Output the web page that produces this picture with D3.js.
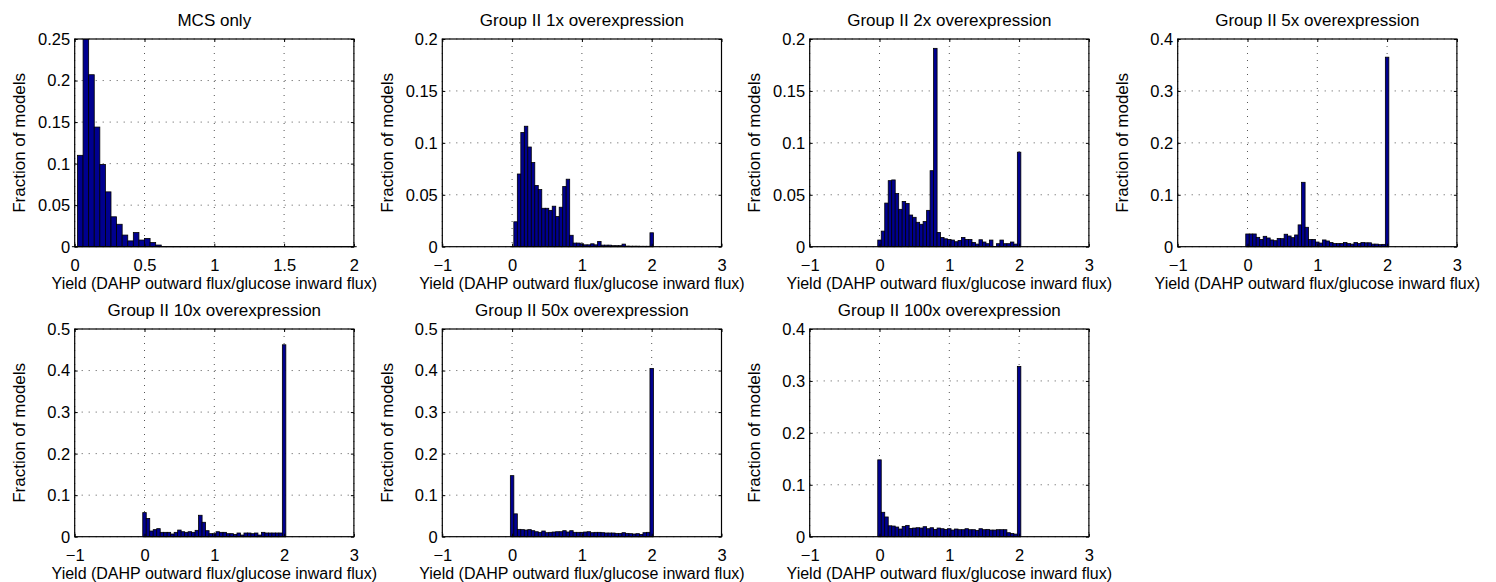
<!DOCTYPE html>
<html>
<head>
<meta charset="utf-8">
<script src="https://cdn.jsdelivr.net/npm/d3@7"></script>
<style>
  html, body { margin: 0; padding: 0; background: #fff; }
  svg { display: block; }
  text { font-family: "Liberation Sans", Arial, Helvetica, sans-serif; fill: #000; }
</style>
</head>
<body>
<svg id="chart" width="1496" height="582"></svg>
<script>
// ---------------- data ----------------
const titles = ["MCS only", "Group II 1x overexpression", "Group II 2x overexpression",
  "Group II 5x overexpression", "Group II 10x overexpression",
  "Group II 50x overexpression", "Group II 100x overexpression"];
const xLabel = "Yield (DAHP outward flux/glucose inward flux)";
const yLabel = "Fraction of models";

const binCentersMCS = [0, 0.04, 0.08, 0.12, 0.16, 0.2, 0.24, 0.28, 0.32, 0.36, 0.4, 0.44, 0.48, 0.52, 0.56, 0.6,
  0.64, 0.68, 0.72, 0.76, 0.8, 0.84, 0.88, 0.92, 0.96, 1, 1.04, 1.08, 1.12, 1.16, 1.2, 1.24, 1.28, 1.32, 1.36,
  1.4, 1.44, 1.48, 1.52, 1.56, 1.6, 1.64, 1.68, 1.72, 1.76, 1.8, 1.84, 1.88, 1.92, 1.96, 2];
const binCenters = [0, 0.05, 0.1, 0.15, 0.2, 0.25, 0.3, 0.35, 0.4, 0.45, 0.5, 0.55, 0.6, 0.65, 0.7, 0.75,
  0.8, 0.85, 0.9, 0.95, 1, 1.05, 1.1, 1.15, 1.2, 1.25, 1.3, 1.35, 1.4, 1.45, 1.5, 1.55, 1.6, 1.65, 1.7, 1.75,
  1.8, 1.85, 1.9, 1.95, 2];

const fracMCS = [0, 0.110, 0.250, 0.207, 0.144, 0.099, 0.066, 0.036, 0.027, 0.014, 0.007, 0.017, 0.008, 0.010, 0.005, 0.002,
  0, 0, 0, 0, 0, 0, 0, 0, 0, 0, 0, 0, 0, 0, 0, 0, 0, 0, 0, 0, 0, 0, 0, 0, 0, 0, 0, 0, 0, 0, 0, 0, 0, 0, 0];
const frac1x = [0, 0.024, 0.070, 0.110, 0.116, 0.096, 0.081, 0.059, 0.055, 0.037, 0.037, 0.035, 0.039, 0.029, 0.038,
  0.058, 0.065, 0.011, 0.0035, 0.0035, 0.0028, 0.0018, 0.0018, 0.0028, 0.0018, 0.005, 0.0015, 0.0015, 0.0015,
  0.001, 0.001, 0.001, 0.0025, 0.0006, 0.0005, 0.0005, 0.0005, 0.0004, 0.0004, 0.0004, 0.0134];
const frac2x = [0.0064, 0.015, 0.042, 0.0636, 0.0643, 0.0512, 0.036, 0.0436, 0.0417, 0.0305, 0.0283, 0.0235, 0.0216,
  0.0242, 0.035, 0.0732, 0.191, 0.0137, 0.0089, 0.0076, 0.007, 0.0064, 0.0048, 0.006, 0.0089, 0.007, 0.007, 0.0041,
  0.0025, 0.0067, 0.0045, 0.0029, 0.0064, 0.0003, 0.0029, 0.0064, 0.0029, 0.0029, 0.0045, 0.0025, 0.091];
const frac5x = [0.0245, 0.0245, 0.0245, 0.018, 0.014, 0.020, 0.0168, 0.013, 0.0116, 0.016, 0.0155, 0.024, 0.0206,
  0.0174, 0.0226, 0.042, 0.124, 0.0374, 0.014, 0.014, 0.009, 0.007, 0.013, 0.011, 0.008, 0.006, 0.006, 0.006, 0.008,
  0.006, 0.005, 0.008, 0.006, 0.008, 0.0075, 0.0075, 0.005, 0.005, 0.004, 0.0045, 0.365];
const frac10x = [0.058, 0.044, 0.0137, 0.017, 0.0194, 0.0105, 0.0105, 0.0105, 0.0065, 0.0105, 0.016, 0.012, 0.0105,
  0.012, 0.0105, 0.0153, 0.0516, 0.0347, 0.0145, 0.0073, 0.0073, 0.012, 0.0105, 0.0105, 0.0073, 0.0073, 0.0056,
  0.0089, 0.004, 0.0089, 0.0089, 0.0073, 0.0089, 0.004, 0.0105, 0.0089, 0.0089, 0.0089, 0.0089, 0.0089, 0.462];
const frac50x = [0.147, 0.055, 0.0177, 0.017, 0.016, 0.017, 0.0145, 0.012, 0.0105, 0.0137, 0.0097, 0.0105, 0.0113,
  0.012, 0.012, 0.0145, 0.0113, 0.0145, 0.0105, 0.0105, 0.0105, 0.0113, 0.012, 0.0097, 0.0105, 0.0105, 0.0097,
  0.0089, 0.0089, 0.0089, 0.008, 0.008, 0.0097, 0.008, 0.0073, 0.0065, 0.0073, 0.0056, 0.0097, 0.0105, 0.405];
const frac100x = [0.148, 0.047, 0.038, 0.021, 0.0205, 0.0186, 0.0148, 0.0199, 0.0218, 0.016, 0.0167, 0.0173, 0.0167,
  0.0193, 0.0154, 0.0173, 0.0141, 0.0167, 0.0154, 0.0141, 0.0154, 0.0128, 0.0148, 0.0135, 0.0135, 0.0154, 0.0135,
  0.0135, 0.0122, 0.0154, 0.0135, 0.0141, 0.0128, 0.0128, 0.0135, 0.0135, 0.0135, 0.0077, 0.0064, 0.005, 0.328];

const xTicksMCS = [0, 0.5, 1, 1.5, 2];
const xTicksWide = [-1, 0, 1, 2, 3];
const yTicks025 = [0, 0.05, 0.1, 0.15, 0.2, 0.25];
const yTicks02 = [0, 0.05, 0.1, 0.15, 0.2];
const yTicks04 = [0, 0.1, 0.2, 0.3, 0.4];
const yTicks05 = [0, 0.1, 0.2, 0.3, 0.4, 0.5];

const binWidthMCS = 0.04;
const binWidth = 0.05;

// ---------------- panel table ----------------
const panels = [
  { title: titles[0], centers: binCentersMCS, vals: fracMCS, bw: binWidthMCS, xd: [0, 2], xt: xTicksMCS, yt: yTicks025, col: 0, row: 0 },
  { title: titles[1], centers: binCenters, vals: frac1x, bw: binWidth, xd: [-1, 3], xt: xTicksWide, yt: yTicks02, col: 1, row: 0 },
  { title: titles[2], centers: binCenters, vals: frac2x, bw: binWidth, xd: [-1, 3], xt: xTicksWide, yt: yTicks02, col: 2, row: 0 },
  { title: titles[3], centers: binCenters, vals: frac5x, bw: binWidth, xd: [-1, 3], xt: xTicksWide, yt: yTicks04, col: 3, row: 0 },
  { title: titles[4], centers: binCenters, vals: frac10x, bw: binWidth, xd: [-1, 3], xt: xTicksWide, yt: yTicks05, col: 0, row: 1 },
  { title: titles[5], centers: binCenters, vals: frac50x, bw: binWidth, xd: [-1, 3], xt: xTicksWide, yt: yTicks05, col: 1, row: 1 },
  { title: titles[6], centers: binCenters, vals: frac100x, bw: binWidth, xd: [-1, 3], xt: xTicksWide, yt: yTicks04, col: 2, row: 1 }
];

// ---------------- layout ----------------
const colLeft = [74.7, 442.3, 809.7, 1177.7];
const rowTop = [39, 329];
const plotW = 279.2;
const plotH = 207.7;
const fontTick = 16.5;
const fontTitle = 17;
const fontXLabel = 16;
const fontYLabel = 17;

const svg = d3.select("#chart");
const fmt = v => (v < 0 ? "\u2212" + Math.abs(v) : String(v));

panels.forEach((p, i) => {
  const x0 = colLeft[p.col], y0 = rowTop[p.row];
  const g = svg.append("g").attr("transform", `translate(${x0},${y0})`);
  const x = d3.scaleLinear().domain(p.xd).range([0, plotW]);
  const y = d3.scaleLinear().domain([0, d3.max(p.yt)]).range([plotH, 0]);

  const clipId = "clip" + i;
  g.append("clipPath").attr("id", clipId).append("rect")
    .attr("x", 0).attr("y", 0).attr("width", plotW).attr("height", plotH);

  // grid (dotted)
  const grid = g.append("g").attr("class", "grid");
  grid.selectAll("line.gx").data(p.xt).enter().append("line")
    .attr("x1", d => x(d)).attr("x2", d => x(d))
    .attr("y1", 0).attr("y2", plotH)
    .attr("stroke", "#555").attr("stroke-width", 1).attr("stroke-dasharray", "1,6");
  grid.selectAll("line.gy").data(p.yt).enter().append("line")
    .attr("y1", d => y(d)).attr("y2", d => y(d))
    .attr("x1", 0).attr("x2", plotW)
    .attr("stroke", "#555").attr("stroke-width", 1).attr("stroke-dasharray", "1,6");

  // bars
  const data = p.centers.map((c, k) => ({ c: c, v: p.vals[k] }));
  g.append("g").attr("clip-path", `url(#${clipId})`)
    .selectAll("rect").data(data.filter(d => d.v > 0)).enter().append("rect")
    .attr("x", d => x(d.c - p.bw / 2))
    .attr("width", d => x(d.c + p.bw / 2) - x(d.c - p.bw / 2))
    .attr("y", d => y(d.v))
    .attr("height", d => plotH - y(d.v))
    .attr("fill", "#00008f")
    .attr("stroke", "#000")
    .attr("stroke-width", 0.8);

  // zero baseline of histogram (zero-height bars drawn as edges)
  g.append("line")
    .attr("x1", x(p.centers[0] - p.bw / 2)).attr("x2", x(p.centers[p.centers.length - 1] + p.bw / 2))
    .attr("y1", plotH).attr("y2", plotH)
    .attr("stroke", "#000").attr("stroke-width", 1);

  // box
  g.append("rect").attr("x", 0).attr("y", 0).attr("width", plotW).attr("height", plotH)
    .attr("fill", "none").attr("stroke", "#000").attr("stroke-width", 1.2);

  // axes with inside ticks
  const tl = 3;
  const axB = g.append("g").attr("transform", `translate(0,${plotH})`)
    .call(d3.axisBottom(x).tickValues(p.xt).tickFormat(fmt).tickSizeInner(-tl).tickSizeOuter(0).tickPadding(10));
  const axT = g.append("g")
    .call(d3.axisTop(x).tickValues(p.xt).tickFormat("").tickSizeInner(-tl).tickSizeOuter(0));
  const axL = g.append("g")
    .call(d3.axisLeft(y).tickValues(p.yt).tickFormat(fmt).tickSizeInner(-tl).tickSizeOuter(0).tickPadding(7));
  const axR = g.append("g").attr("transform", `translate(${plotW},0)`)
    .call(d3.axisRight(y).tickValues(p.yt).tickFormat("").tickSizeInner(-tl).tickSizeOuter(0));
  [axB, axT, axL, axR].forEach(a => {
    a.select(".domain").remove();
    a.selectAll("line").attr("stroke", "#000");
    a.selectAll("text").style("font-size", fontTick + "px").attr("fill", "#000")
      .style("font-family", '"Liberation Sans", Arial, sans-serif');
  });
  axB.selectAll("text").attr("dy", null).attr("y", 24).attr("dominant-baseline", null);
  axL.selectAll("text").attr("dy", "0.33em").attr("x", -4.5);

  // title
  g.append("text").attr("x", plotW / 2).attr("y", -13)
    .attr("text-anchor", "middle").style("font-size", fontTitle + "px").text(p.title);
  // x label
  g.append("text").attr("x", plotW / 2).attr("y", plotH + 42.2)
    .attr("text-anchor", "middle").style("font-size", fontXLabel + "px").text(xLabel);
  // y label
  g.append("text").attr("transform", `translate(-49.7,${plotH / 2}) rotate(-90)`)
    .attr("text-anchor", "middle").style("font-size", fontYLabel + "px").text(yLabel);
});
</script>
</body>
</html>
